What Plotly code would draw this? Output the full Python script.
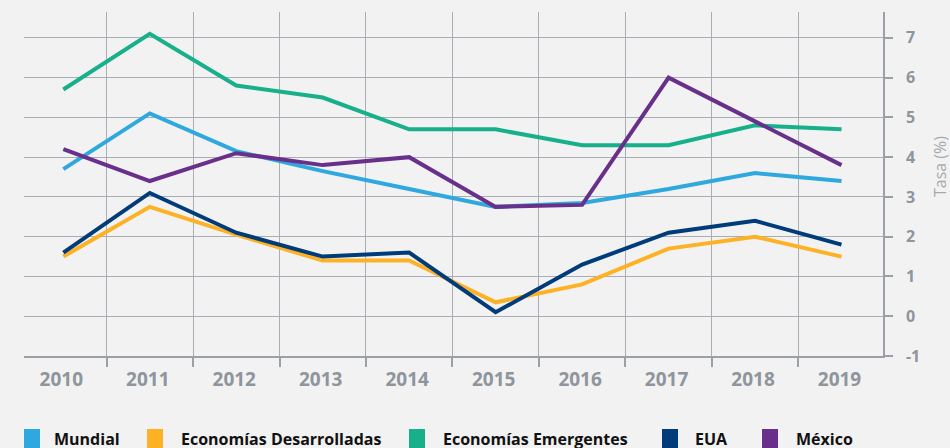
import plotly.graph_objects as go

years = ["2010", "2011", "2012", "2013", "2014", "2015", "2016", "2017", "2018", "2019"]
mundial = [3.7, 5.1, 4.15, 3.65, 3.2, 2.75, 2.85, 3.2, 3.6, 3.4]
desarrolladas = [1.5, 2.75, 2.05, 1.4, 1.4, 0.35, 0.8, 1.7, 2.0, 1.5]
emergentes = [5.7, 7.1, 5.8, 5.5, 4.7, 4.7, 4.3, 4.3, 4.8, 4.7]
eua = [1.6, 3.1, 2.1, 1.5, 1.6, 0.1, 1.3, 2.1, 2.4, 1.8]
mexico = [4.2, 3.4, 4.1, 3.8, 4.0, 2.75, 2.8, 6.0, 4.9, 3.8]

names = ["Mundial", "Economías Desarrolladas", "Economías Emergentes", "EUA", "México"]
colors = ["#2EA8DF", "#FDB124", "#17B08B", "#003B7A", "#68308A"]
series = [mundial, desarrolladas, emergentes, eua, mexico]
yticks = [-1, 0, 1, 2, 3, 4, 5, 6, 7]
ytick_labels = ["-1", "0", "1", "2", "3", "4", "5", "6", "7"]
y_title = "Tasa (%)"

W, H = 950, 448
ML, MR, MT, MB = 24, 67, 12, 92
PW = W - ML - MR
PH = H - MT - MB

fig = go.Figure()
for n, c, s in zip(names, colors, series):
    fig.add_trace(go.Scatter(x=years, y=s, mode="lines", name=n,
                             line=dict(color=c, width=4), showlegend=False))

grid = "#A9AEB4"
axc = "#9AA0A6"
tickcol = "#8E959C"

fig.update_layout(
    width=W, height=H,
    margin=dict(l=ML, r=MR, t=MT, b=MB),
    paper_bgcolor="#F2F2F2", plot_bgcolor="#F2F2F2",
    xaxis=dict(type="category", range=[-0.455, 9.48], tickson="boundaries",
               showgrid=True, gridcolor=grid, gridwidth=1,
               ticks="outside", ticklen=9, tickcolor=axc, tickwidth=1.5,
               showline=True, linecolor=axc, linewidth=1.5,
               ticklabelstandoff=5, ticklabelshift=-2,
               tickfont=dict(family="Open Sans", size=19, color=tickcol, weight="bold"),
               zeroline=False),
    yaxis=dict(side="right", range=[-1, 7.65], tickvals=yticks, ticktext=ytick_labels,
               showgrid=True, gridcolor=grid, gridwidth=1,
               ticks="outside", ticklen=8, tickcolor=axc, tickwidth=1.5,
               showline=True, linecolor=axc, linewidth=1.5,
               ticklabelstandoff=10,
               tickfont=dict(family="Open Sans", size=16, color=tickcol, weight="bold"),
               zeroline=False),
)

def px_x(p):
    return (p - ML) / PW

def px_y(p):
    return 1 - (p - MT) / PH

# y-axis title
fig.add_annotation(xref="paper", yref="paper", x=px_x(940), y=px_y(167),
                   xanchor="center", yanchor="middle", showarrow=False, textangle=-90,
                   text=y_title, font=dict(family="Open Sans", size=16, color="#A5A9AD"))

# custom legend (squares + labels) below the plot
sq_x = [24, 147, 409, 662, 762]
tx_x = [52, 179, 441, 693, 794]
for n, c, sx, tx in zip(names, colors, sq_x, tx_x):
    fig.add_shape(type="rect", xref="paper", yref="paper",
                  x0=px_x(sx), x1=px_x(sx + 16), y0=px_y(452), y1=px_y(429),
                  fillcolor=c, line=dict(width=0), layer="above")
    fig.add_annotation(xref="paper", yref="paper", x=px_x(tx), y=px_y(439),
                       xanchor="left", yanchor="middle", showarrow=False,
                       text=n, font=dict(family="Open Sans", size=16,
                                         color="#111111", weight="bold"))

fig.write_html("out.html", config={"displayModeBar": False},
               post_script="document.body.style.margin='0';")
